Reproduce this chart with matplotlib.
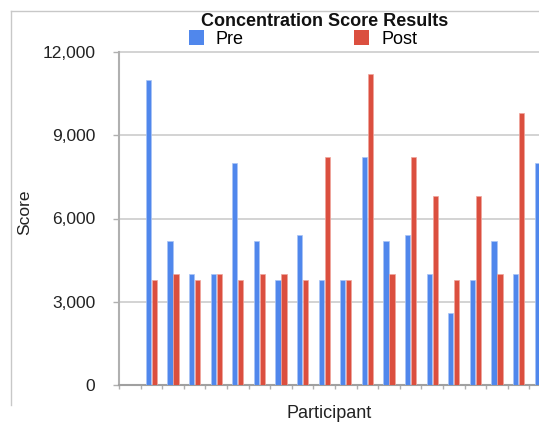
import matplotlib
matplotlib.use("Agg")
import matplotlib.pyplot as plt
from matplotlib.lines import Line2D
from matplotlib.patches import Patch
from matplotlib.ticker import FuncFormatter
import numpy as np

plt.rcParams['font.family'] = ['Liberation Sans', 'DejaVu Sans']

# participant scores (first slot on the axis is empty in the original chart)
participants = list(range(1, 20))
pre = [11000, 5200, 4000, 4000, 8000, 5200, 3800, 5400, 3800, 3800,
       8200, 5200, 5400, 4000, 2600, 3800, 5200, 4000, 8000]
post = [3800, 4000, 3800, 4000, 3800, 4000, 4000, 3800, 8200, 3800,
        11200, 4000, 8200, 6800, 3800, 6800, 4000, 9800, np.nan]
y_ticks = [0, 3000, 6000, 9000, 12000]

BLUE = '#5087ec'
RED = '#db4f3f'
GRID = '#cccccc'
AXIS = '#b0b0b0'

W, H = 539, 425
fig = plt.figure(figsize=(W / 100, H / 100), dpi=100)

slot_px = 21.6
n_slots = 21
left, right_px = 119, 119 + n_slots * slot_px
top, bottom = 52, 385
ax = fig.add_axes([left / W, 1 - bottom / H, (right_px - left) / W, (bottom - top) / H])

x = np.arange(1, len(participants) + 1) + 0.5
bw = 0.24
ax.bar(x - bw / 2 - 0.02, pre, width=bw, color=BLUE, edgecolor='#a9c4f5', linewidth=0.5, zorder=3)
ax.bar(x + bw / 2 + 0.02, post, width=bw, color=RED, edgecolor='#f0a59c', linewidth=0.5, zorder=3)

ax.set_xlim(0, n_slots)
ax.set_ylim(0, 12000)
ax.set_yticks(y_ticks)
ax.yaxis.set_major_formatter(FuncFormatter(lambda v, p: f"{int(v):,}"))
ax.set_xticks(np.arange(0, n_slots + 1))
ax.set_xticklabels([])
ax.tick_params(axis='x', length=3, width=1, color=AXIS, direction='out')
ax.tick_params(axis='y', length=4, width=1, color=AXIS, direction='out',
               labelsize=12.5, pad=13, labelcolor='#222222')
ax.grid(axis='y', color=GRID, linewidth=1.2, zorder=0)
for gl in ax.get_ygridlines():
    gl.set_clip_on(False)
ax.set_axisbelow(True)

for s in ['top', 'right']:
    ax.spines[s].set_visible(False)
ax.spines['left'].set_color(AXIS)
ax.spines['left'].set_linewidth(1.5)
ax.spines['bottom'].set_color('#a0a0a0')
ax.spines['bottom'].set_linewidth(1.5)

fig.text(25 / W, 1 - 212 / H, "Score", rotation=90, ha='center', va='center', fontsize=12.5, color='#222222')
fig.text(329 / W, 1 - 414 / H, "Participant", ha='center', va='center', fontsize=13, color='#222222')
fig.text(324.5 / W, 1 - 21 / H, "Concentration Score Results", ha='center', va='center',
         fontsize=13, fontweight='bold', color='#111111')

handles = [Patch(facecolor=BLUE, edgecolor='none', label='Pre'),
           Patch(facecolor=RED, edgecolor='none', label='Post')]
fig.legend(handles=handles, loc='center', bbox_to_anchor=(303 / W, 1 - 39 / H), ncol=2,
           frameon=False, fontsize=13, handlelength=0.85, handleheight=0.85,
           handletextpad=0.65, columnspacing=6.1, borderpad=0, borderaxespad=0)

# outer chart frame (partly cropped in the original)
fig.add_artist(Line2D([11 / W, 11 / W], [1 - 11 / H, 1 - 405 / H], color='#c8c8c8', linewidth=1))
fig.add_artist(Line2D([11 / W, 1], [1 - 11 / H, 1 - 11 / H], color='#c8c8c8', linewidth=1))

fig.savefig("out.png", dpi=100)
